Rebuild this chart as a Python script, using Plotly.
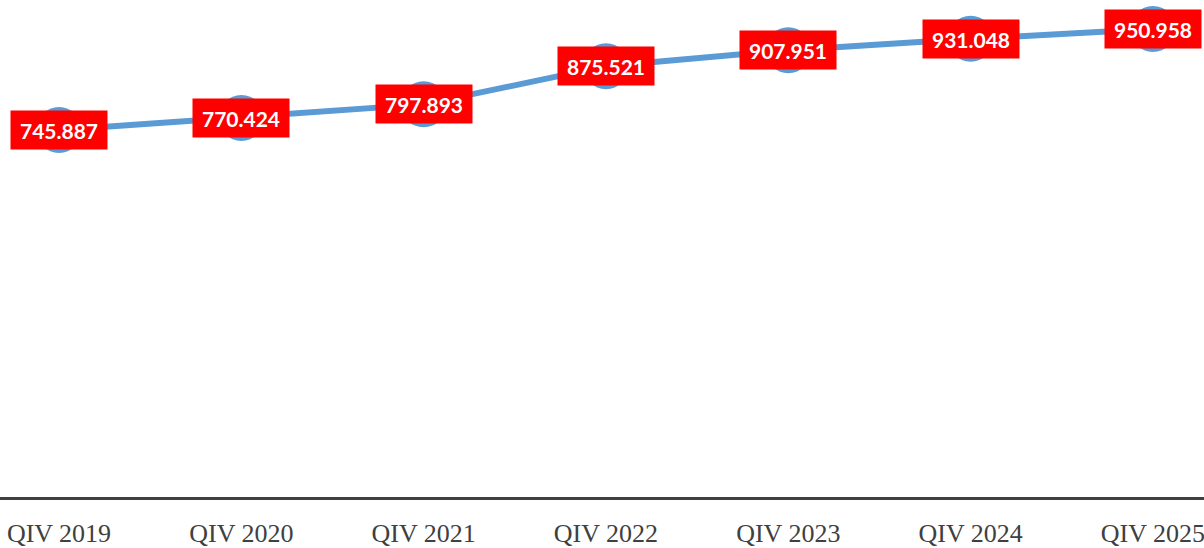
import plotly.graph_objects as go

categories = ["QIV 2019", "QIV 2020", "QIV 2021", "QIV 2022", "QIV 2023", "QIV 2024", "QIV 2025"]
values = [745.887, 770.424, 797.893, 875.521, 907.951, 931.048, 950.958]
labels = ["745.887", "770.424", "797.893", "875.521", "907.951", "931.048", "950.958"]

fig = go.Figure()
fig.add_trace(go.Scatter(
    x=categories, y=values, mode="lines+markers",
    line=dict(color="#5B9BD5", width=6),
    marker=dict(size=46, color="#5B9BD5"),
    hoverinfo="skip", showlegend=False, cliponaxis=False,
))

for c, v, t in zip(categories, values, labels):
    fig.add_annotation(
        x=c, y=v, text="<b>" + t + "</b>", showarrow=False,
        xanchor="center", yanchor="middle",
        bgcolor="#FF0000", borderpad=7, width=82, height=24,
        font=dict(family="Lato, Open Sans, sans-serif", size=21, color="white"),
    )

fig.update_layout(
    width=1204, height=548,
    margin=dict(l=0, r=0, t=0, b=51, autoexpand=False),
    plot_bgcolor="white", paper_bgcolor="white",
    xaxis=dict(
        type="category", range=[-0.3236, 6.28], automargin=False,
        showline=True, linecolor="#404040", linewidth=3,
        showgrid=False, zeroline=False,
        ticks="outside", ticklen=11, tickcolor="rgba(0,0,0,0)",
        tickfont=dict(family="Liberation Serif, serif", size=26, color="#404040"),
    ),
    yaxis=dict(range=[0, 1010], visible=False, showgrid=False, zeroline=False, automargin=False),
)

fig.write_html(
    "out.html",
    config={"displayModeBar": False},
    post_script="document.body.style.margin='0';document.body.style.overflow='hidden';",
)
